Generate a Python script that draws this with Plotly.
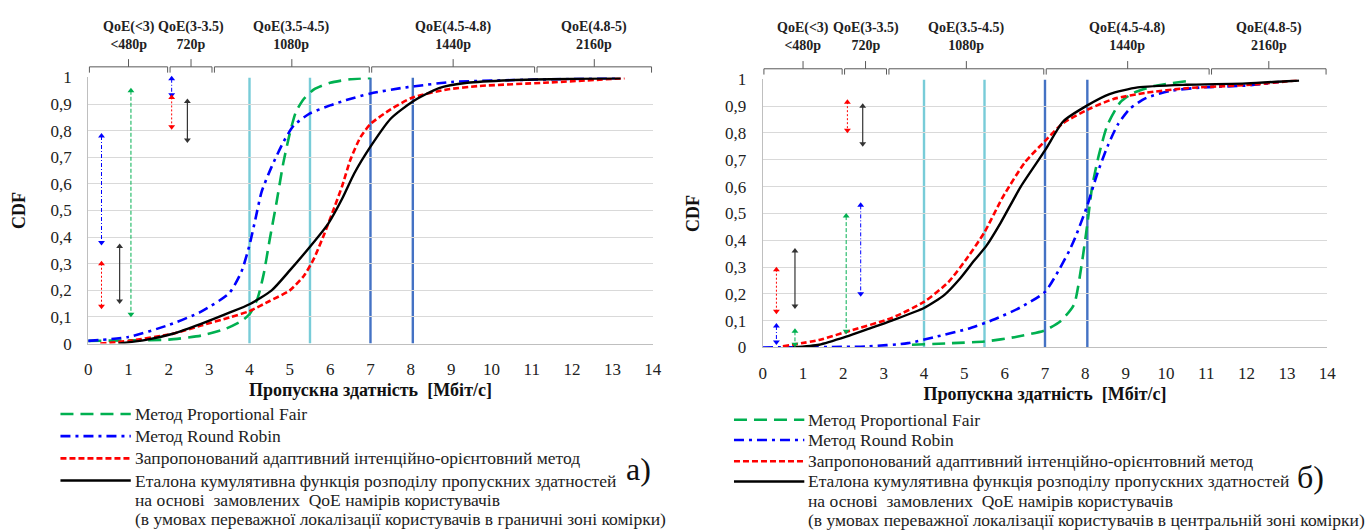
import plotly.graph_objects as go

W, H = 1365, 531

# ---------------- data ----------------
X_TICKS = list(range(0, 15))
Y_TICKVALS = [0, 0.1, 0.2, 0.3, 0.4, 0.5, 0.6, 0.7, 0.8, 0.9, 1.0]
Y_TICKTEXT = ["0", "0,1", "0,2", "0,3", "0,4", "0,5", "0,6", "0,7", "0,8", "0,9", "1"]

QOE_BOUNDS = [0, 2, 3.1, 7, 11.1, 14]
QOE_LABELS = ["QoE(&lt;3)<br>&lt;480p", "QoE(3-3.5)<br>720p", "QoE(3.5-4.5)<br>1080p",
              "QoE(4.5-4.8)<br>1440p", "QoE(4.8-5)<br>2160p"]

VLINES_X = [4, 5.5, 7, 8.05]
VLINES_KIND = ["light", "light", "dark", "dark"]

# chart a) - users mostly at cell edge
pf_a_x = [0, 1, 2, 2.8, 3.4, 3.8, 4.0, 4.2, 4.35, 4.5, 4.67, 4.84, 5.0, 5.15, 5.35, 5.6, 6.0, 6.5, 7.0]
pf_a_y = [0.01, 0.012, 0.015, 0.03, 0.055, 0.085, 0.11, 0.17, 0.26, 0.39, 0.53, 0.68, 0.79, 0.87, 0.92, 0.955, 0.98, 0.993, 0.998]

rr_a_x = [0, 1, 2, 2.8, 3.5, 3.8, 4.0, 4.15, 4.3, 4.55, 4.85, 5.1, 5.5, 6.0, 6.4, 7.0, 7.75, 8.1, 9.0, 10.5, 13.2]
rr_a_y = [0.01, 0.025, 0.07, 0.12, 0.19, 0.27, 0.37, 0.47, 0.57, 0.665, 0.76, 0.82, 0.865, 0.895, 0.915, 0.94, 0.96, 0.967, 0.983, 0.99, 0.998]

red_a_x = [0.3, 1.0, 2.1, 2.8, 3.5, 4.0, 4.5, 5.0, 5.35, 5.6, 5.85, 6.1, 6.3, 6.5, 6.75, 7.0, 7.5, 8.05, 8.9, 9.7, 11.3, 13.3]
red_a_y = [0.0, 0.01, 0.037, 0.068, 0.098, 0.122, 0.16, 0.2, 0.255, 0.32, 0.41, 0.51, 0.593, 0.69, 0.775, 0.825, 0.88, 0.925, 0.955, 0.968, 0.98, 0.997]

ref_a_x = [0.75, 1.4, 2.1, 2.8, 3.5, 4.0, 4.55, 5.0, 5.5, 5.95, 6.3, 6.6, 7.0, 7.5, 8.05, 8.7, 9.4, 10.5, 12.0, 13.2]
ref_a_y = [0.0, 0.013, 0.037, 0.074, 0.116, 0.148, 0.2, 0.275, 0.364, 0.45, 0.545, 0.64, 0.74, 0.845, 0.91, 0.96, 0.98, 0.99, 0.995, 0.997]

# chart b) - users mostly at cell centre
pf_b_x = [3.7, 4.7, 5.5, 6.3, 7.0, 7.4, 7.72, 7.9, 8.05, 8.17, 8.34, 8.55, 8.87, 9.2, 9.7, 10.5]
pf_b_y = [0.01, 0.016, 0.022, 0.04, 0.064, 0.1, 0.16, 0.3, 0.46, 0.6, 0.72, 0.83, 0.915, 0.95, 0.975, 0.993]

rr_b_x = [0, 2.6, 3.6, 4.3, 5.1, 5.75, 6.4, 7.0, 7.35, 7.6, 7.75, 8.05, 8.3, 8.55, 8.8, 9.1, 9.5, 10.1, 10.9, 12.1, 12.8]
rr_b_y = [0.0, 0.004, 0.016, 0.04, 0.07, 0.105, 0.15, 0.207, 0.29, 0.36, 0.41, 0.53, 0.65, 0.75, 0.83, 0.89, 0.93, 0.957, 0.97, 0.978, 0.99]

red_b_x = [0.5, 1.4, 2.07, 3.2, 4.0, 4.6, 5.1, 5.5, 5.95, 6.5, 7.0, 7.45, 8.1, 8.7, 9.5, 10.5, 12.1, 13.3]
red_b_y = [0.004, 0.028, 0.058, 0.11, 0.17, 0.243, 0.34, 0.43, 0.56, 0.69, 0.77, 0.837, 0.89, 0.927, 0.95, 0.967, 0.98, 0.997]

ref_b_x = [0.75, 1.4, 2.07, 2.64, 3.2, 4.0, 4.5, 4.9, 5.25, 5.55, 5.9, 6.4, 7.0, 7.45, 8.05, 8.6, 9.3, 10.5, 12.0, 13.3]
ref_b_y = [0.0, 0.01, 0.04, 0.07, 0.1, 0.147, 0.195, 0.258, 0.325, 0.38, 0.465, 0.6, 0.735, 0.843, 0.903, 0.945, 0.97, 0.98, 0.985, 0.996]

# double-headed arrows: series, x, top, bottom
arrows_a_series = ["rr", "pf", "red", "ref", "rr", "red", "ref"]
arrows_a_x = [0.33, 1.06, 0.33, 0.78, 2.07, 2.07, 2.46]
arrows_a_top = [0.78, 0.95, 0.30, 0.365, 0.995, 0.925, 0.91]
arrows_a_bot = [0.38, 0.11, 0.14, 0.16, 0.935, 0.815, 0.765]

arrows_b_series = ["red", "ref", "rr", "pf", "pf", "rr", "red", "ref"]
arrows_b_x = [0.34, 0.8, 0.34, 0.8, 2.07, 2.43, 2.1, 2.48]
arrows_b_top = [0.29, 0.36, 0.08, 0.06, 0.49, 0.53, 0.915, 0.9]
arrows_b_bot = [0.135, 0.155, 0.02, 0.012, 0.06, 0.2, 0.81, 0.76]

LEGEND_TEXT = ["Метод Proportional Fair", "Метод Round Robin",
               "Запропонований адаптивний інтенційно-орієнтовний метод",
               "Еталона кумулятивна функція розподілу пропускних здатностей"]
LEGEND_EXTRA_A = ["на основі  замовлених  QoE намірів користувачів",
                  "(в умовах переважної локалізації користувачів в граничні зоні комірки)"]
LEGEND_EXTRA_B = ["на основі  замовлених  QoE намірів користувачів",
                  "(в умовах переважної локалізації користувачів в центральній зоні комірки)"]
X_TITLE = "Пропускна здатність  [Мбіт/с]"
Y_TITLE = "CDF"

# ---------------- styles ----------------
SERIF = "Liberation Serif"
STY = {
    "pf": dict(color="#00B050", dash="13px,7px", width=2.6),
    "rr": dict(color="#0000FF", dash="10px,5px,3px,5px", width=2.6),
    "red": dict(color="#FF0000", dash="6px,3px", width=2.6),
    "ref": dict(color="#000000", dash="solid", width=2.4),
}
ARROW_STY = {
    "pf": dict(color="#00B050", dash="4px,2px", width=1),
    "rr": dict(color="#0000FF", dash="4px,2px,1px,2px", width=1),
    "red": dict(color="#FF0000", dash="2px,2px", width=1),
    "ref": dict(color="#333333", dash="solid", width=1.2),
}
VCOL = {"light": "#78CCD8", "dark": "#4472C4"}

fig = go.Figure()


def add_curves(xs_ys, xa, ya):
    for key, xs, ys in xs_ys:
        s = STY[key]
        fig.add_trace(go.Scatter(x=xs, y=ys, mode="lines", xaxis=xa, yaxis=ya,
                                 line=dict(color=s["color"], dash=s["dash"], width=s["width"],
                                           shape="spline", smoothing=0.6),
                                 showlegend=False, hoverinfo="skip"))


def add_arrows(series, xs, tops, bots, xa, ya):
    for k, x, t, b in zip(series, xs, tops, bots):
        s = ARROW_STY[k]
        fig.add_trace(go.Scatter(x=[x, x], y=[t, b], mode="lines", xaxis=xa, yaxis=ya,
                                 line=dict(color=s["color"], dash=s["dash"], width=s["width"]),
                                 showlegend=False, hoverinfo="skip"))
        fig.add_trace(go.Scatter(x=[x, x], y=[t, b], mode="markers", xaxis=xa, yaxis=ya,
                                 marker=dict(symbol=["triangle-up", "triangle-down"], size=6,
                                             color=s["color"], line=dict(width=0)),
                                 showlegend=False, hoverinfo="skip", cliponaxis=False))


add_curves([("pf", pf_a_x, pf_a_y), ("rr", rr_a_x, rr_a_y), ("red", red_a_x, red_a_y),
            ("ref", ref_a_x, ref_a_y)], "x", "y")
add_curves([("pf", pf_b_x, pf_b_y), ("rr", rr_b_x, rr_b_y), ("red", red_b_x, red_b_y),
            ("ref", ref_b_x, ref_b_y)], "x2", "y2")
add_arrows(arrows_a_series, arrows_a_x, arrows_a_top, arrows_a_bot, "x", "y")
add_arrows(arrows_b_series, arrows_b_x, arrows_b_top, arrows_b_bot, "x2", "y2")

shapes = []
annotations = []

# vertical reference lines (drawn below curves)
for xr, yr in (("x", "y"), ("x2", "y2")):
    for vx, kind in zip(VLINES_X, VLINES_KIND):
        shapes.append(dict(type="line", xref=xr, yref=yr, x0=vx, x1=vx, y0=0, y1=1,
                           line=dict(color=VCOL[kind], width=2.4), layer="below"))


def py(p):
    return 1 - p / H


# QoE brackets above each plot
for xr, ybase in (("x", 0), ("x2", 2)):
    ym, yl, yt = py(60 + ybase), py(66 + ybase), py(52 + ybase)
    for i in range(len(QOE_BOUNDS) - 1):
        a, b = QOE_BOUNDS[i] + 0.03, QOE_BOUNDS[i + 1] - 0.03
        c = (QOE_BOUNDS[i] + QOE_BOUNDS[i + 1]) / 2
        shapes.append(dict(type="path", xref=xr, yref="paper",
                           path=f"M {a},{yl} L {a},{ym} L {b},{ym} L {b},{yl}",
                           line=dict(color="#595959", width=1)))
        shapes.append(dict(type="path", xref=xr, yref="paper",
                           path=f"M {c},{ym} L {c},{yt}",
                           line=dict(color="#595959", width=1)))
        annotations.append(dict(xref=xr, yref="paper", x=c, y=py(27 + ybase), text=QOE_LABELS[i],
                                showarrow=False, xanchor="center", yanchor="middle",
                                font=dict(family=SERIF, size=14, color="#222222", weight="bold"),
                                align="center"))

# manual legends
def add_legend(x0, ys, extra, tag, tag_xy):
    keys = ["pf", "rr", "red", "ref"]
    for k, txt, yy in zip(keys, LEGEND_TEXT, ys[:4]):
        s = STY[k]
        shapes.append(dict(type="line", xref="paper", yref="paper",
                           x0=x0 / W, x1=(x0 + 71) / W, y0=py(yy), y1=py(yy),
                           line=dict(color=s["color"], dash=s["dash"], width=s["width"])))
        annotations.append(dict(xref="paper", yref="paper", x=(x0 + 73) / W, y=py(yy), text=txt,
                                showarrow=False, xanchor="left", yanchor="middle",
                                font=dict(family=SERIF, size=17.5, color="#222222")))
    for txt, yy in zip(extra, ys[4:]):
        annotations.append(dict(xref="paper", yref="paper", x=(x0 + 73) / W, y=py(yy), text=txt,
                                showarrow=False, xanchor="left", yanchor="middle",
                                font=dict(family=SERIF, size=17.5, color="#222222")))
    annotations.append(dict(xref="paper", yref="paper", x=tag_xy[0] / W, y=py(tag_xy[1]), text=tag,
                            showarrow=False, xanchor="center", yanchor="middle",
                            font=dict(family=SERIF, size=32, color="#111111")))


add_legend(57, [420, 443, 466, 489, 509, 529], LEGEND_EXTRA_A, "а)", (641, 477))
add_legend(737, [426, 447, 469, 490, 510, 530], LEGEND_EXTRA_B, "б)", (1319, 485))

# axes
tickfont = dict(family=SERIF, size=17, color="#222222")
titlefont = dict(family=SERIF, size=18, color="#111111", weight="bold")


def xaxis(domain, anchor):
    return dict(domain=domain, anchor=anchor, range=[0, 14], tickvals=X_TICKS,
                ticktext=[str(v) for v in X_TICKS], tickfont=tickfont, showgrid=False,
                zeroline=False, showline=True, linecolor="#BFBFBF", linewidth=1.3,
                ticks="", ticklabelstandoff=10,
                title=dict(text=X_TITLE, font=titlefont, standoff=5))


def yaxis(domain, anchor):
    return dict(domain=domain, anchor=anchor, range=[0, 1], tickvals=Y_TICKVALS,
                ticktext=Y_TICKTEXT, tickfont=tickfont, showgrid=True, gridcolor="#D9D9D9",
                gridwidth=1.2, zeroline=False, showline=True, linecolor="#BFBFBF",
                linewidth=1.3, ticks="", ticklabelstandoff=12,
                title=dict(text=Y_TITLE, font=titlefont, standoff=20))


fig.update_layout(
    width=W, height=H, margin=dict(l=0, r=0, t=0, b=0),
    paper_bgcolor="white", plot_bgcolor="white", showlegend=False,
    xaxis=xaxis([85 / W, 655 / W], "y"),
    yaxis=yaxis([1 - 347 / H, 1 - 71 / H], "x"),
    xaxis2=xaxis([766 / W, 1336 / W], "y2"),
    yaxis2=yaxis([1 - 351 / H, 1 - 73 / H], "x2"),
    shapes=shapes, annotations=annotations,
)

fig.write_html("out.html")
